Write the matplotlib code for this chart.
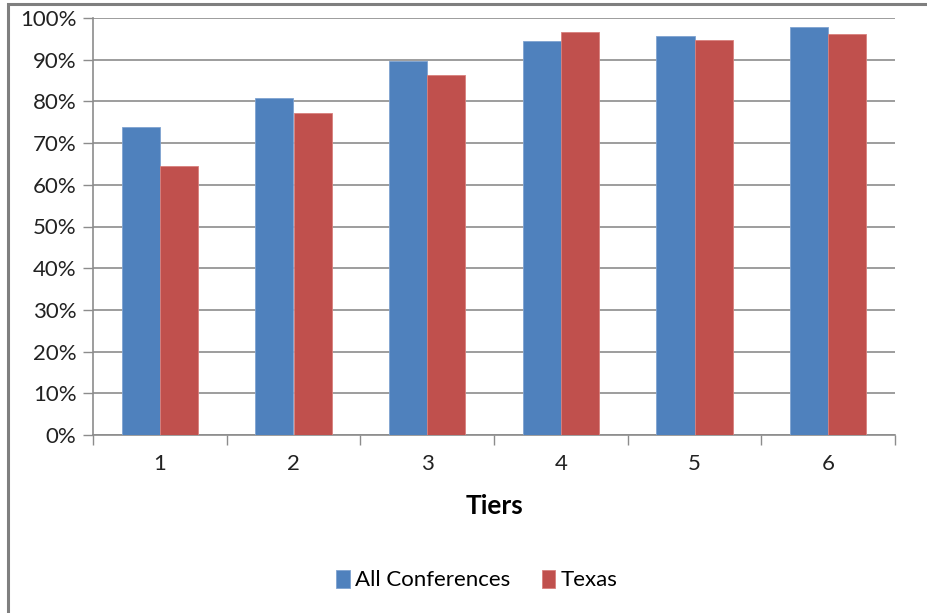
import numpy as np
import matplotlib.pyplot as plt
from matplotlib.patches import Rectangle
from matplotlib.ticker import FuncFormatter

plt.rcParams['font.family'] = ['Lato', 'DejaVu Sans']

tiers = ['1', '2', '3', '4', '5', '6']
all_conf = [73.8, 80.7, 89.8, 94.5, 95.8, 97.9]
texas = [64.5, 77.1, 86.4, 96.6, 94.7, 96.2]

blue = '#4F81BD'
red = '#C0504D'
grid_col = '#8C8C8C'

fig = plt.figure(figsize=(9.27, 6.13), dpi=100)
# outer chart frame (left and top edges only)
fig.patches.append(Rectangle((8/927, -0.1), 1.2, 1.1 - 4/613, transform=fig.transFigure,
                             fill=False, edgecolor='#7F7F7F', linewidth=2.2))

ax = fig.add_axes([93/927, 1 - 435/613, (895 - 93)/927, (435 - 18)/613])

x = np.arange(len(tiers))
w = 0.285
ax.bar(x - w/2, all_conf, w, color=blue, edgecolor='#7FA3D1', linewidth=0.6,
       label='All Conferences', zorder=3)
ax.bar(x + w/2, texas, w, color=red, edgecolor='#D9807D', linewidth=0.6,
       label='Texas', zorder=3)

ax.set_xlim(-0.5, len(tiers) - 0.5)
ax.set_ylim(0, 100)
ax.set_yticks(np.arange(0, 101, 10))
ax.yaxis.set_major_formatter(FuncFormatter(lambda v, p: '%d%%' % v))
ax.yaxis.grid(True, color=grid_col, linewidth=1.2, zorder=0)
ax.set_axisbelow(True)

# category ticks sit on the boundaries, labels in the middle
ax.set_xticks(np.arange(-0.5, len(tiers), 1))
ax.set_xticklabels([])
ax.set_xticks(x, minor=True)
ax.set_xticklabels(tiers, minor=True)
ax.tick_params(axis='x', which='major', length=7, width=1, color=grid_col, direction='out')
ax.tick_params(axis='x', which='minor', length=0, pad=14, labelsize=16, labelcolor='#222222')
ax.tick_params(axis='y', length=7, width=1, color=grid_col, labelsize=16,
               labelcolor='#222222', pad=5)

for s in ['top', 'right']:
    ax.spines[s].set_visible(False)
for s in ['left', 'bottom']:
    ax.spines[s].set_color(grid_col)
    ax.spines[s].set_linewidth(1.2)

ax.set_xlabel('Tiers', fontsize=19, fontweight='bold', labelpad=14)

fig.legend(loc='center', bbox_to_anchor=(477/927, 1 - 580/613), ncol=2, frameon=False,
           fontsize=16, handlelength=0.6, handleheight=0.9, handletextpad=0.25,
           columnspacing=1.4)

fig.savefig('out.png', dpi=100)
